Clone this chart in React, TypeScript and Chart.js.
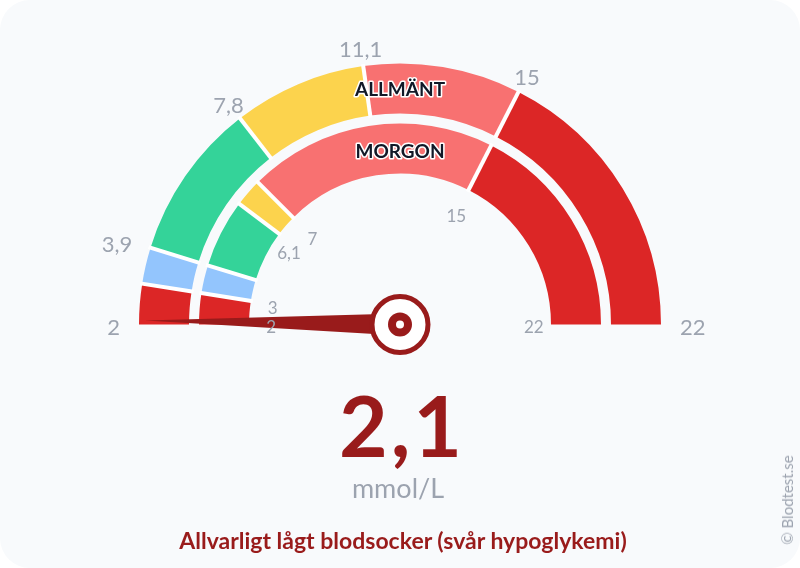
import { useEffect, useRef } from "react";
import { Chart, registerables } from "chart.js";

Chart.register(...registerables);

const scaleMin = 2;
const scaleMax = 22;
const currentValue = 2.1;

const allmanBounds = [2, 3, 3.9, 7.8, 11.1, 15, 22];
const morgonBounds = [2, 3, 3.9, 6.1, 7, 15, 22];
const segmentColors = ["#dc2626", "#93c5fd", "#34d399", "#fcd34d", "#f87171", "#dc2626"];

const allmanTicks = [2, 3.9, 7.8, 11.1, 15, 22];
const morgonTicks = [2, 3, 6.1, 7, 15, 22];

const RED = "#991b1b";
const GREY = "#9ca3af";
const FONT = 'Lato, sans-serif';

const spans = (bounds: number[]) => bounds.slice(1).map((b, i) => +(b - bounds[i]).toFixed(2));
const fmt = (v: number) => String(v).replace(".", ",");

const gaugePlugin = {
  id: "gauge",
  afterDatasetsDraw(chart: any) {
    const ctx = chart.ctx;
    const first = chart.getDatasetMeta(0).data[0];
    const cx = first.x;
    const cy = first.y;
    const angleOf = (v: number) => Math.PI + ((v - scaleMin) / (scaleMax - scaleMin)) * Math.PI;

    // white dividers between the segments
    ctx.save();
    ctx.strokeStyle = "#ffffff";
    ctx.lineWidth = 4;
    [0, 2].forEach((idx) => {
      chart.getDatasetMeta(idx).data.slice(1).forEach((arc: any) => {
        const a = arc.startAngle;
        ctx.beginPath();
        ctx.moveTo(cx + (arc.innerRadius - 2) * Math.cos(a), cy + (arc.innerRadius - 2) * Math.sin(a));
        ctx.lineTo(cx + (arc.outerRadius + 2) * Math.cos(a), cy + (arc.outerRadius + 2) * Math.sin(a));
        ctx.stroke();
      });
    });
    ctx.restore();

    // needle and hub
    const a = angleOf(currentValue);
    const nx = Math.cos(a);
    const ny = Math.sin(a);
    ctx.save();
    ctx.fillStyle = RED;
    ctx.beginPath();
    ctx.moveTo(cx + 255 * nx, cy + 255 * ny);
    ctx.lineTo(cx - ny * 11, cy + nx * 11);
    ctx.lineTo(cx + ny * 11, cy - nx * 11);
    ctx.closePath();
    ctx.fill();
    ctx.beginPath();
    ctx.arc(cx, cy, 28, 0, Math.PI * 2);
    ctx.fillStyle = "#ffffff";
    ctx.fill();
    ctx.lineWidth = 5;
    ctx.strokeStyle = RED;
    ctx.stroke();
    ctx.beginPath();
    ctx.arc(cx, cy, 12, 0, Math.PI * 2);
    ctx.fillStyle = RED;
    ctx.fill();
    ctx.beginPath();
    ctx.arc(cx, cy, 4, 0, Math.PI * 2);
    ctx.fillStyle = "#ffffff";
    ctx.fill();
    ctx.restore();

    // tick labels
    const drawTicks = (ticks: number[], r: number, size: number) => {
      ctx.save();
      ctx.fillStyle = GREY;
      ctx.font = `${size}px ${FONT}`;
      ctx.textBaseline = "middle";
      ticks.forEach((t) => {
        const f = (t - scaleMin) / (scaleMax - scaleMin);
        const ta = angleOf(t);
        ctx.textAlign = f < 0.25 ? "right" : f > 0.75 ? "left" : "center";
        ctx.fillText(fmt(t), cx + r * Math.cos(ta), cy + r * Math.sin(ta) + 3);
      });
      ctx.restore();
    };
    drawTicks(allmanTicks, 280, 22);
    drawTicks(morgonTicks, 124, 17);

    // ring names
    const drawName = (name: string, y: number) => {
      ctx.save();
      ctx.font = `700 19px ${FONT}`;
      ctx.textAlign = "center";
      ctx.textBaseline = "middle";
      ctx.lineJoin = "round";
      ctx.lineWidth = 3;
      ctx.strokeStyle = "#ffffff";
      ctx.strokeText(name, cx, y);
      ctx.fillStyle = "#111827";
      ctx.fillText(name, cx, y);
      ctx.restore();
    };
    drawName("ALLMÄNT", 90);
    drawName("MORGON", 152);
  },
};

export default function App() {
  const canvasRef = useRef<HTMLCanvasElement | null>(null);

  useEffect(() => {
    if (!canvasRef.current) return;
    const chart = new Chart(canvasRef.current, {
      type: "doughnut",
      data: {
        datasets: [
          { data: spans(allmanBounds), backgroundColor: segmentColors, borderWidth: 0, weight: 50 },
          { data: [1], backgroundColor: "transparent", borderWidth: 0, weight: 10 },
          { data: spans(morgonBounds), backgroundColor: segmentColors, borderWidth: 0, weight: 50 },
        ],
      },
      options: {
        animation: false,
        responsive: false,
        events: [],
        rotation: -90,
        circumference: 180,
        cutout: (151 / 261) * 100 + "%",
        layout: { padding: { left: 139, right: 139, top: 63.5, bottom: 243.5 } },
        plugins: { legend: { display: false }, tooltip: { enabled: false } },
      },
      plugins: [gaugePlugin],
    } as any);
    return () => chart.destroy();
  }, []);

  const centered = { position: "absolute", left: 0, width: 800, textAlign: "center", fontFamily: FONT, whiteSpace: "nowrap" } as const;

  return (
    <div style={{ position: "absolute", left: 0, top: 0, width: 800, height: 568, overflow: "hidden", background: "#f8fafc", borderRadius: 30 }}>
      <canvas ref={canvasRef} width={800} height={568} style={{ position: "absolute", left: 0, top: 0 }} />
      <div style={{ ...centered, left: 2, top: 368, fontSize: 84, fontWeight: 700, letterSpacing: 3, lineHeight: "114px", color: RED }}>{fmt(currentValue)}</div>
      <div style={{ ...centered, left: -2, top: 470, fontSize: 27, lineHeight: "36px", color: GREY }}>mmol/L</div>
      <div style={{ ...centered, left: 3, top: 525, fontSize: 23, fontWeight: 700, lineHeight: "30px", color: RED }}>Allvarligt lågt blodsocker (svår hypoglykemi)</div>
      <div style={{ position: "absolute", left: 787, top: 500, transform: "translate(-50%,-50%) rotate(-90deg)", fontFamily: FONT, fontSize: 15, color: GREY, whiteSpace: "nowrap" }}>© Blodtest.se</div>
    </div>
  );
}
